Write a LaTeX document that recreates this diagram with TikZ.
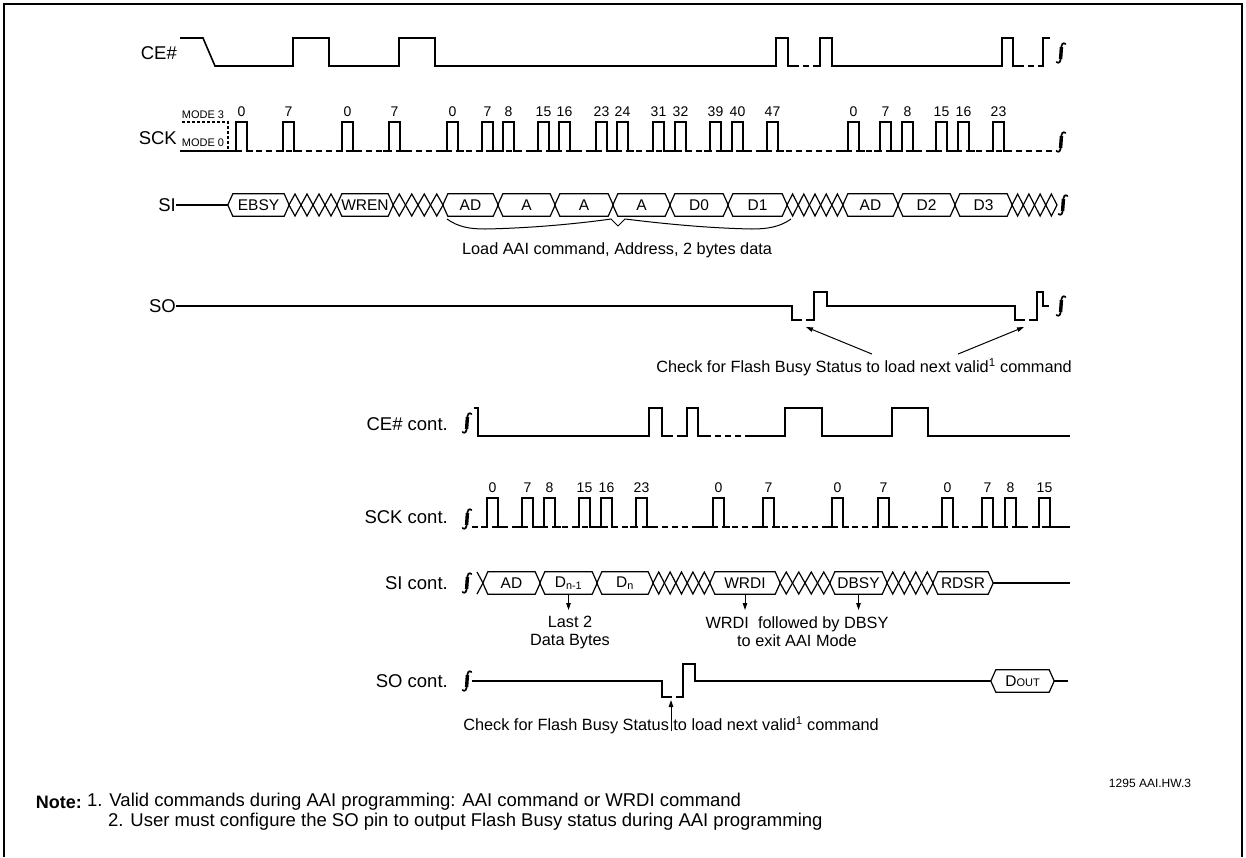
\documentclass[tikz,border=0pt]{standalone}
\usepackage{fontspec}
\setmainfont{Liberation Sans}
\usetikzlibrary{arrows.meta}
\tikzset{
  wave/.style={line width=1.6pt},
  lowdash/.style={wave,dash pattern=on 6pt off 4pt},
  bus/.style={line width=1.2pt},
  sig/.style={anchor=east,inner sep=0pt,font=\fontsize{18.5}{20}\selectfont},
  num/.style={inner sep=0pt,font=\fontsize{14}{15}\selectfont},
  byte/.style={inner sep=0pt,minimum height=22pt,font=\fontsize{15.5}{16}\selectfont},
  txt/.style={inner sep=0pt,align=center,font=\fontsize{16.3}{18}\selectfont},
  ptr/.style={line width=1pt,-{Triangle[length=7pt,width=4.5pt]}},
  brk/.pic={\draw[line width=1.7pt,line cap=round] (4.5,-9) .. controls (2,-11) and (0.3,-9) .. (0.3,-4) -- (-0.3,4) .. controls (-0.3,9) and (-2,11) .. (-4.5,9);
    \draw[line width=3.4pt] (0.4,-6) .. controls (0.1,-1) and (-0.1,1) .. (-0.4,6);}
}
\begin{document}
\begin{tikzpicture}[x=1pt,y=-1pt]
\useasboundingbox (0,0) rectangle (1246,857);
\draw[line width=1.5pt] (4,857) -- (4,4) -- (1242,4) -- (1242,857);
\node[sig] (ce) at (177,53) {CE\#};
\node[sig] (sck) at (177,138) {SCK};
\node[sig] (si) at (176,205) {SI};
\node[sig] (so) at (176,306) {SO};
\node[sig] (cec) at (448,424) {CE\# cont.};
\node[sig] (sckc) at (448,517) {SCK cont.};
\node[sig] (sic) at (448,583) {SI cont.};
\node[sig] (soc) at (448,681) {SO cont.};
\draw[wave] (180,38) -- (203,38) -- (215,66) -- (293,66) -- (293,38) -- (329,38) -- (329,66) -- (399,66) -- (399,38) -- (435,38) -- (435,66) -- (776,66) -- (776,38) -- (788,38) -- (788,66) -- (793,66);
\draw[lowdash] (793,66) -- (815,66);
\draw[wave] (815,66) -- (820,66) -- (820,38) -- (832,38) -- (832,66) -- (1002,66) -- (1002,38) -- (1013,38) -- (1013,66) -- (1018,66);
\draw[lowdash] (1018,66) -- (1038,66);
\draw[wave] (1038,66) -- (1043,66) -- (1043,38) -- (1050,38);
\pic at (1061,53) {brk};
\draw[bus,dash pattern=on 3pt off 2pt] (182,122) -- (228,122) -- (228,151);
\node[num,font=\fontsize{11}{11}\selectfont] (m3) at (203,115) {MODE 3};
\node[num,font=\fontsize{11}{11}\selectfont] (m0) at (203,143) {MODE 0};
\draw[wave] (180,151) -- (236,151);
\draw[lowdash] (236,151) -- (1057,151);
\foreach \r/\n in {236/0,283/7,342/0,389/7,447/0,482/7,503/8,538/15,559/16,596/23,617/24,653/31,675/32,710/39,732/40,767/47,848/0,880/7,902/8,936/15,958/16,993/23}
{
  \draw[wave] (\r-6,151) -- (\r,151) -- (\r,122) -- (\r+11,122) -- (\r+11,151) -- (\r+17,151);
  \node[num] (n\r) at (\r+5.5,112) {\n};
}
\pic at (1061,142) {brk};
\foreach \y/\a/\b/\t in {205/228/289/EBSY,205/337/393/WREN,205/443/498/AD,205/498/555/A,205/555/613/A,205/613/670/A,205/670/728/D0,205/728/787/D1,205/843/898/AD,205/898/955/D2,205/955/1012/D3,583/483/540/AD,583/540/597/D\textsubscript{n-1},583/597/653/D\textsubscript{n},583/710/780/WRDI,583/830/887/DBSY,583/933/993/RDSR,681/991/1054/D{\fontsize{11}{11}\selectfont OUT}}
{
  \pgfmathsetmacro\w{\b-\a}
  \node[byte,minimum width=\w pt] (box\a) at ({(\a+\b)/2},\y) {\t};
  \draw[bus] (box\a.west) -- ([xshift=5pt]box\a.north west) -- ([xshift=-5pt]box\a.north east) -- (box\a.east) -- ([xshift=-5pt]box\a.south east) -- ([xshift=5pt]box\a.south west) -- cycle;
}
\foreach \y/\a/\b/\n in {205/289/337/4,205/393/443/4,205/787/843/5,205/1012/1057/4,583/653/710/5,583/780/830/4,583/887/933/4}
{
  \pgfmathsetmacro\w{(\b-\a)/\n}
  \foreach \k in {1,...,\n}
    \draw[bus] ({\a+(\k-1)*\w},\y) -- ({\a+(\k-.5)*\w},\y-11) -- ({\a+\k*\w},\y) -- ({\a+(\k-.5)*\w},\y+11) -- cycle;
}
\draw[bus] (si) -- (box228);
\pic at (1063,205) {brk};
\draw[line width=1pt] (447,219) .. controls (458,227) and (470,229) .. (485,229) .. controls (540,228) and (590,222) .. (611,219) -- (618,226) -- (625,219) .. controls (650,222) and (700,228) .. (752,229) .. controls (767,229) and (780,227) .. (791,219);
\node[txt] (load) at (617,250) {Load AAI command, Address, 2 bytes data};
\draw[wave] (so) -- (792,306) -- (792,320) -- (796,320);
\draw[lowdash] (796,320) -- (810,320);
\draw[wave] (810,320) -- (814,320) -- (814,292) -- (827,292) -- (827,306) -- (1015,306) -- (1015,320) -- (1019,320);
\draw[lowdash] (1019,320) -- (1033,320);
\draw[wave] (1033,320) -- (1037,320) -- (1037,292) -- (1043,292) -- (1043,306) -- (1049,306);
\pic at (1061,306) {brk};
\node[txt] (chk) at (864,367) {Check for Flash Busy Status to load next valid\textsuperscript{1} command};
\coordinate (q1) at (806,327);
\coordinate (q2) at (1024,327);
\draw[ptr] ([xshift=8pt,yshift=4pt]chk.north) -- (q1);
\draw[ptr] ([xshift=94pt,yshift=4pt]chk.north) -- (q2);
\pic at (467,423) {brk};
\draw[wave] (474,408) -- (478,408) -- (478,436) -- (649,436) -- (649,408) -- (662,408) -- (662,436) -- (667,436);
\draw[lowdash] (667,436) -- (682,436);
\draw[wave] (682,436) -- (687,436) -- (687,408) -- (698,408) -- (698,436) -- (705,436);
\draw[lowdash] (705,436) -- (745,436);
\draw[wave] (745,436) -- (785,436) -- (785,408) -- (822,408) -- (822,436) -- (892,436) -- (892,408) -- (928,408) -- (928,436) -- (1070,436);
\pic at (467,519) {brk};
\draw[lowdash] (472,527) -- (1052,527);
\draw[wave] (697,527) -- (713,527);
\draw[wave] (1045,527) -- (1070,527);
\foreach \r/\n in {487/0,522/7,544/8,579/15,601/16,636/23,713/0,763/7,832/0,878/7,942/0,982/7,1005/8,1039/15}
{
  \draw[wave] (\r-6,527) -- (\r,527) -- (\r,498) -- (\r+11,498) -- (\r+11,527) -- (\r+17,527);
  \node[num] (c\r) at (\r+5.5,488) {\n};
}
\pic at (467,583) {brk};
\draw[bus] (477,572) -- (483,583) -- (477,594);
\draw[bus] (box933) -- (1070,583);
\node[txt] (last) at (570,632) {Last 2\\Data Bytes};
\node[txt] (exit) at (797,632) {WRDI~ followed by DBSY\\to exit AAI Mode};
\coordinate (t1) at (box540.south |- 0,610);
\coordinate (t2) at (box710.south |- 0,610);
\coordinate (t3) at (box830.south |- 0,610);
\draw[ptr] (box540.south) -- (t1);
\draw[ptr] (box710.south) -- (t2);
\draw[ptr] (box830.south) -- (t3);
\pic at (467,681) {brk};
\draw[wave] (472,681) -- (662,681) -- (662,697) -- (666,697);
\draw[lowdash] (666,697) -- (679,697);
\draw[wave] (679,697) -- (683,697) -- (683,664) -- (695,664) -- (695,681) -- (box991.west);
\draw[bus] (box991) -- (1068,681);
\node[txt] (chk2) at (671,725) {Check for Flash Busy Status to load next valid\textsuperscript{1} command};
\coordinate (p3) at (671,731);
\coordinate (q3) at (671,700);
\draw[ptr] (p3) -- (q3);
\node[inner sep=0pt,font=\fontsize{12}{12}\selectfont] (fig) at (1150,783) {1295 AAI.HW.3};
\node[inner sep=0pt,anchor=east,font=\bfseries\fontsize{18}{20}\selectfont] (note) at (82,802) {Note:};
\node[inner sep=0pt,anchor=west,font=\fontsize{18.5}{20}\selectfont] (n1) at (87,802) {1. Valid commands during AAI programming: AAI command or WRDI command};
\node[inner sep=0pt,anchor=west,font=\fontsize{18.5}{20}\selectfont] (n2) at (108,822) {2. User must configure the SO pin to output Flash Busy status during AAI programming};
\end{tikzpicture}
\end{document}
